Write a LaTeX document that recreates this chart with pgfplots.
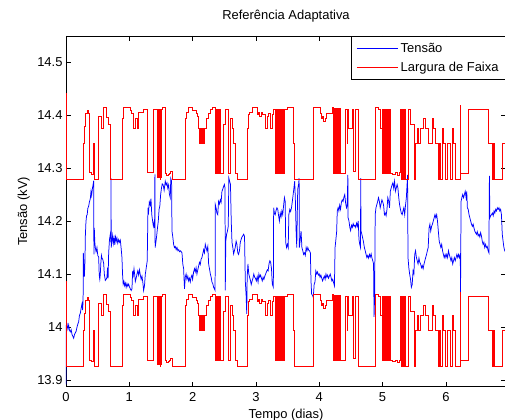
\documentclass[border=0pt]{standalone}
\usepackage{fontspec}
\setmainfont{Liberation Sans}
\usepackage{pgfplots}
\pgfplotsset{compat=1.18}
\usepackage{pgfplotstable}

\pgfplotstableread{
t lo up
0 14.087 14.440
0.003 13.926 14.279
0.279 13.994 14.347
0.29 14.025 14.378
0.305 14.05 14.403
0.332 14.056 14.409
0.355 14.05 14.403
0.369 13.938 14.291
0.4 13.935 14.288
0.437 13.994 14.347
0.442 13.926 14.279
0.506 14.045 14.398
0.558 14.022 14.375
0.595 14.062 14.415
0.637 14.042 14.395
0.67 14.03 14.383
0.70 13.926 14.279
0.895 14.04 14.393
0.91 14.062 14.415
1.016 14.056 14.409
1.04 14.05 14.403
1.069 14.022 14.375
1.095 14.04 14.393
1.122 14.022 14.375
1.15 14.052 14.405
1.226 14.058 14.411
1.28 13.938 14.291
1.385 14.058 14.411
1.437 13.93 14.283
1.445 14.058 14.411
1.455 13.93 14.283
1.46 14.058 14.411
1.47 13.93 14.283
1.477 14.058 14.411
1.485 13.926 14.279
1.49 14.058 14.411
1.5 13.93 14.283
1.505 14.058 14.411
1.516 14.062 14.415
1.569 13.937 14.290
1.59 13.934 14.287
1.61 13.935 14.288
1.63 13.937 14.290
1.648 13.94 14.293
1.674 13.926 14.279
1.885 14.04 14.393
1.9 14.052 14.405
1.938 14.062 14.415
2.0 14.056 14.409
2.054 14.05 14.403
2.075 14.045 14.398
2.096 14.022 14.375
2.105 13.994 14.347
2.112 14.022 14.375
2.12 13.994 14.347
2.13 14.022 14.375
2.14 13.994 14.347
2.15 14.022 14.375
2.16 13.994 14.347
2.17 14.022 14.375
2.18 13.994 14.347
2.19 14.022 14.375
2.225 14.04 14.393
2.254 14.05 14.403
2.28 14.058 14.411
2.307 14.062 14.415
2.359 13.937 14.290
2.37 14.058 14.411
2.38 13.937 14.290
2.39 14.058 14.411
2.4 13.937 14.290
2.41 14.058 14.411
2.42 13.937 14.290
2.43 14.058 14.411
2.44 13.937 14.290
2.49 14.03 14.383
2.517 14.058 14.411
2.559 13.937 14.290
2.596 14.04 14.393
2.625 14.022 14.375
2.649 13.994 14.347
2.675 13.937 14.290
2.701 13.926 14.279
2.859 14.022 14.375
2.875 14.048 14.401
2.9 14.052 14.405
2.938 14.062 14.415
3.017 14.048 14.401
3.04 14.052 14.405
3.06 14.044 14.397
3.08 14.052 14.405
3.096 14.048 14.401
3.149 14.022 14.375
3.175 14.045 14.398
3.201 14.05 14.403
3.23 14.022 14.375
3.254 14.048 14.401
3.28 14.057 14.410
3.307 13.937 14.290
3.32 14.057 14.410
3.335 13.937 14.290
3.35 14.057 14.410
3.365 13.937 14.290
3.38 14.057 14.410
3.4 13.937 14.290
3.415 14.057 14.410
3.43 13.937 14.290
3.445 14.057 14.410
3.49 14.062 14.415
3.596 13.994 14.347
3.61 13.926 14.279
3.912 14.062 14.415
4.018 14.05 14.403
4.035 14.04 14.393
4.055 14.045 14.398
4.07 14.035 14.388
4.097 14.04 14.393
4.12 14.05 14.403
4.202 14.062 14.415
4.228 13.937 14.290
4.24 14.06 14.413
4.25 13.937 14.290
4.26 14.06 14.413
4.27 13.937 14.290
4.28 14.06 14.413
4.29 13.937 14.290
4.3 14.06 14.413
4.312 13.937 14.290
4.325 14.06 14.413
4.338 13.937 14.290
4.41 14.058 14.411
4.44 13.994 14.347
4.448 14.058 14.411
4.465 14.022 14.375
4.518 14.058 14.411
4.54 13.94 14.293
4.57 14.058 14.411
4.623 13.926 14.279
4.886 14.062 14.415
4.939 14.058 14.411
4.965 14.022 14.375
4.992 14.058 14.411
5.0 13.937 14.290
5.01 14.058 14.411
5.02 13.937 14.290
5.03 14.058 14.411
5.04 13.937 14.290
5.05 14.058 14.411
5.06 13.937 14.290
5.07 14.058 14.411
5.08 13.937 14.290
5.09 14.058 14.411
5.1 13.937 14.290
5.11 14.058 14.411
5.124 13.937 14.290
5.16 13.935 14.288
5.2 13.938 14.291
5.23 13.934 14.287
5.26 13.938 14.291
5.28 14.058 14.411
5.3 13.926 14.279
5.31 14.058 14.411
5.33 13.926 14.279
5.34 14.058 14.411
5.36 13.926 14.279
5.413 14.058 14.411
5.44 14.03 14.383
5.508 13.926 14.279
5.52 13.994 14.347
5.545 14.022 14.375
5.57 13.994 14.347
5.598 14.022 14.375
5.65 14.04 14.393
5.677 14.022 14.375
5.73 13.994 14.347
5.782 14.04 14.393
5.8 14.022 14.375
5.835 13.994 14.347
5.88 13.926 14.279
5.9 13.994 14.347
5.915 13.926 14.279
5.94 14.022 14.375
5.965 13.994 14.347
5.99 13.926 14.279
6.019 13.994 14.347
6.07 13.926 14.279
6.098 14.022 14.375
6.125 13.994 14.347
6.15 13.926 14.279
6.229 14.066 14.419
6.235 13.937 14.290
6.35 14.058 14.411
6.677 13.994 14.347
6.73 13.926 14.279
6.757 13.994 14.347
6.77 13.926 14.279
6.888 13.994 14.347
6.95 13.994 14.347
}\bandtable

\pgfplotstableread{
t v
0.000 13.892
0.004 14.003
0.016 14.006
0.030 13.996
0.042 14.004
0.055 13.994
0.068 13.991
0.082 13.995
0.095 13.986
0.110 13.982
0.121 13.979
0.135 13.986
0.147 13.989
0.160 13.992
0.174 14.000
0.188 14.006
0.200 14.010
0.213 14.022
0.226 14.026
0.240 14.036
0.253 14.044
0.262 14.032
0.270 14.048
0.274 14.140
0.282 14.118
0.290 14.095
0.300 14.125
0.305 14.170
0.315 14.198
0.325 14.210
0.335 14.212
0.345 14.224
0.358 14.228
0.370 14.236
0.384 14.242
0.395 14.256
0.405 14.248
0.418 14.262
0.430 14.270
0.437 14.276
0.441 14.137
0.447 14.187
0.455 14.160
0.463 14.150
0.475 14.142
0.489 14.150
0.502 14.135
0.516 14.132
0.525 14.098
0.534 14.090
0.542 14.100
0.550 14.120
0.560 14.135
0.568 14.130
0.580 14.128
0.595 14.120
0.605 14.100
0.621 14.088
0.634 14.090
0.647 14.094
0.656 14.112
0.665 14.092
0.674 14.140
0.687 14.165
0.700 14.175
0.709 14.160
0.711 14.281
0.714 14.150
0.726 14.162
0.737 14.173
0.748 14.158
0.760 14.168
0.771 14.155
0.782 14.170
0.795 14.162
0.805 14.168
0.818 14.158
0.832 14.165
0.845 14.160
0.858 14.164
0.870 14.150
0.884 14.131
0.893 14.100
0.903 14.081
0.915 14.086
0.926 14.078
0.937 14.083
0.950 14.075
0.963 14.082
0.976 14.077
0.989 14.081
1.002 14.076
1.016 14.072
1.030 14.069
1.042 14.072
1.053 14.106
1.063 14.098
1.074 14.110
1.084 14.100
1.095 14.086
1.108 14.092
1.121 14.100
1.134 14.106
1.147 14.098
1.160 14.108
1.174 14.098
1.187 14.090
1.200 14.096
1.213 14.085
1.226 14.069
1.240 14.078
1.253 14.100
1.268 14.112
1.283 14.125
1.295 14.225
1.305 14.218
1.316 14.236
1.330 14.230
1.342 14.242
1.355 14.212
1.368 14.200
1.380 14.190
1.392 14.198
1.400 14.187
1.404 14.288
1.408 14.150
1.420 14.160
1.432 14.172
1.445 14.187
1.458 14.200
1.470 14.222
1.482 14.228
1.495 14.250
1.508 14.262
1.520 14.270
1.535 14.268
1.550 14.258
1.568 14.275
1.582 14.268
1.595 14.272
1.608 14.262
1.621 14.268
1.634 14.250
1.647 14.244
1.655 14.280
1.668 14.275
1.674 14.181
1.687 14.170
1.700 14.156
1.713 14.150
1.726 14.152
1.740 14.146
1.753 14.150
1.768 14.144
1.780 14.146
1.795 14.142
1.810 14.144
1.832 14.140
1.845 14.119
1.858 14.110
1.866 14.087
1.872 14.072
1.884 14.094
1.897 14.100
1.910 14.090
1.924 14.096
1.937 14.087
1.950 14.092
1.963 14.085
1.976 14.094
1.989 14.098
2.000 14.090
2.016 14.104
2.030 14.110
2.042 14.104
2.055 14.112
2.068 14.100
2.082 14.108
2.095 14.115
2.108 14.122
2.121 14.118
2.134 14.128
2.147 14.131
2.160 14.138
2.174 14.146
2.187 14.140
2.200 14.156
2.213 14.150
2.226 14.144
2.240 14.152
2.253 14.119
2.266 14.110
2.280 14.100
2.293 14.094
2.305 14.085
2.318 14.082
2.332 14.075
2.345 14.072
2.355 14.069
2.358 14.231
2.370 14.225
2.384 14.215
2.397 14.212
2.410 14.237
2.423 14.232
2.437 14.240
2.450 14.235
2.463 14.256
2.476 14.260
2.489 14.265
2.502 14.269
2.512 14.262
2.516 14.069
2.524 14.162
2.537 14.175
2.550 14.181
2.563 14.190
2.572 14.281
2.585 14.275
2.598 14.269
2.610 14.200
2.622 14.160
2.635 14.150
2.648 14.138
2.660 14.144
2.673 14.150
2.687 14.162
2.700 14.156
2.713 14.140
2.726 14.137
2.740 14.144
2.753 14.160
2.766 14.165
2.780 14.170
2.793 14.172
2.806 14.175
2.820 14.171
2.832 14.087
2.845 14.060
2.855 14.025
2.862 14.095
2.874 14.119
2.887 14.100
2.900 14.094
2.913 14.088
2.926 14.080
2.940 14.087
2.953 14.092
2.966 14.100
2.980 14.094
2.993 14.092
3.006 14.087
3.020 14.095
3.034 14.085
3.047 14.100
3.060 14.094
3.074 14.098
3.087 14.092
3.100 14.087
3.113 14.094
3.126 14.090
3.140 14.096
3.153 14.100
3.166 14.104
3.180 14.108
3.193 14.106
3.206 14.119
3.220 14.125
3.233 14.122
3.246 14.110
3.258 14.081
3.275 14.075
3.280 14.225
3.292 14.215
3.305 14.212
3.318 14.220
3.332 14.225
3.345 14.222
3.358 14.210
3.371 14.200
3.384 14.215
3.397 14.208
3.410 14.219
3.423 14.212
3.436 14.228
3.450 14.244
3.462 14.237
3.470 14.160
3.484 14.150
3.497 14.156
3.510 14.150
3.520 14.212
3.535 14.222
3.548 14.218
3.562 14.225
3.575 14.237
3.588 14.250
3.600 14.262
3.612 14.275
3.622 14.244
3.635 14.180
3.645 14.150
3.660 14.260
3.675 14.270
3.682 14.281
3.686 14.150
3.700 14.165
3.713 14.181
3.726 14.150
3.740 14.144
3.753 14.137
3.766 14.140
3.780 14.135
3.793 14.150
3.806 14.144
3.820 14.150
3.833 14.145
3.846 14.144
3.860 14.140
3.870 14.087
3.880 14.062
3.893 14.060
3.906 14.056
3.920 14.081
3.933 14.085
3.946 14.106
3.960 14.100
3.973 14.104
3.986 14.098
4.000 14.100
4.013 14.094
4.026 14.098
4.040 14.092
4.053 14.087
4.066 14.092
4.080 14.096
4.093 14.090
4.106 14.100
4.120 14.094
4.133 14.098
4.146 14.092
4.160 14.096
4.173 14.100
4.186 14.094
4.200 14.087
4.213 14.090
4.226 14.084
4.240 14.078
4.250 14.150
4.263 14.165
4.275 14.180
4.285 14.219
4.298 14.225
4.310 14.219
4.323 14.230
4.336 14.222
4.350 14.235
4.363 14.240
4.376 14.237
4.390 14.245
4.403 14.250
4.416 14.235
4.430 14.225
4.442 14.230
4.452 14.287
4.456 14.206
4.470 14.200
4.483 14.188
4.496 14.182
4.510 14.192
4.523 14.188
4.536 14.195
4.550 14.190
4.563 14.192
4.576 14.188
4.590 14.196
4.603 14.190
4.616 14.200
4.628 14.165
4.640 14.156
4.652 14.150
4.655 14.281
4.660 14.181
4.673 14.175
4.686 14.168
4.700 14.160
4.713 14.150
4.726 14.144
4.740 14.137
4.753 14.131
4.766 14.135
4.780 14.130
4.793 14.137
4.806 14.132
4.820 14.138
4.833 14.130
4.846 14.125
4.858 14.119
4.866 14.019
4.875 14.060
4.884 14.212
4.896 14.225
4.910 14.231
4.923 14.237
4.936 14.244
4.950 14.237
4.963 14.225
4.976 14.232
4.990 14.240
5.003 14.236
5.016 14.230
5.030 14.212
5.043 14.215
5.056 14.210
5.070 14.222
5.083 14.244
5.096 14.238
5.110 14.225
5.123 14.256
5.136 14.262
5.150 14.268
5.163 14.272
5.176 14.262
5.190 14.275
5.203 14.256
5.216 14.262
5.230 14.269
5.243 14.262
5.256 14.244
5.270 14.230
5.283 14.222
5.296 14.215
5.310 14.212
5.323 14.219
5.336 14.225
5.350 14.212
5.363 14.230
5.376 14.244
5.388 14.270
5.395 14.287
5.402 14.131
5.415 14.112
5.428 14.100
5.442 14.090
5.455 14.075
5.468 14.080
5.482 14.106
5.495 14.100
5.508 14.137
5.521 14.144
5.535 14.131
5.548 14.125
5.561 14.119
5.575 14.130
5.588 14.122
5.601 14.119
5.615 14.112
5.628 14.116
5.641 14.110
5.655 14.119
5.668 14.125
5.681 14.131
5.695 14.137
5.708 14.144
5.721 14.150
5.735 14.187
5.748 14.194
5.761 14.181
5.775 14.190
5.788 14.194
5.801 14.200
5.815 14.206
5.828 14.212
5.841 14.206
5.855 14.212
5.868 14.200
5.881 14.181
5.895 14.162
5.908 14.156
5.921 14.150
5.934 14.156
5.948 14.144
5.961 14.137
5.974 14.131
5.988 14.137
6.001 14.131
6.014 14.137
6.028 14.131
6.041 14.144
6.054 14.137
6.068 14.131
6.081 14.125
6.094 14.131
6.108 14.119
6.121 14.125
6.134 14.131
6.148 14.125
6.161 14.131
6.174 14.137
6.188 14.131
6.201 14.137
6.214 14.131
6.228 14.137
6.232 14.066
6.240 14.237
6.253 14.244
6.266 14.250
6.280 14.244
6.293 14.250
6.306 14.256
6.320 14.244
6.330 14.256
6.340 14.225
6.353 14.222
6.366 14.212
6.379 14.206
6.392 14.200
6.405 14.194
6.418 14.190
6.431 14.194
6.444 14.187
6.457 14.181
6.470 14.178
6.483 14.175
6.496 14.180
6.510 14.172
6.523 14.175
6.536 14.170
6.549 14.178
6.562 14.172
6.575 14.162
6.588 14.156
6.601 14.160
6.614 14.150
6.628 14.156
6.641 14.150
6.654 14.152
6.667 14.144
6.680 14.140
6.688 14.285
6.695 14.206
6.708 14.210
6.721 14.212
6.735 14.215
6.748 14.210
6.761 14.219
6.774 14.215
6.787 14.222
6.800 14.219
6.813 14.225
6.826 14.222
6.839 14.225
6.852 14.219
6.865 14.222
6.878 14.212
6.891 14.175
6.904 14.162
6.917 14.150
6.930 14.144
6.950 14.140
}\voltable

\begin{document}
\begin{tikzpicture}
\path[use as bounding box] (-66bp,-33.3bp) rectangle (439bp,386.7bp);
\begin{axis}[
  at={(0,0)}, anchor=south west,
  scale only axis, width=440bp, height=350.7bp,
  xmin=0, xmax=6.95, ymin=13.8875, ymax=14.549,
  xtick={0,1,2,3,4,5,6},
  ytick={13.9,14,14.1,14.2,14.3,14.4,14.5},
  tick align=inside, major tick length=5bp,
  /pgf/number format/assume math mode=true,
  font=\fontsize{13}{15.6}\selectfont,
  ticklabel style={font=\fontsize{13}{15.6}\selectfont},
  xticklabel style={yshift=-2bp},
  axis line style={line width=0.8pt, black},
  tick style={line width=0.6pt, black},
  title={Referência Adaptativa},
  title style={at={(axis description cs:0.5,1.0314)}, anchor=base},
  xlabel={Tempo (dias)},
  xlabel style={at={(axis description cs:0.5,-0.0901)}, anchor=base},
  ylabel={Tensão (kV)},
  ylabel style={at={(axis description cs:-0.0886,0.5)}, anchor=base},
  legend cell align=left,
  legend style={at={(axis description cs:0.6477,1)}, anchor=north west,
    draw=black, line width=0.8pt, fill=white,
    inner xsep=5bp, inner ysep=2.65bp, row sep=0pt,
    nodes={inner xsep=2.5bp, inner ysep=3bp, text height=10.5bp, text depth=2.5bp},
    font=\fontsize{13}{15.6}\selectfont},
  legend image code/.code={\draw[#1, line width=0.75pt] (0bp,0bp) -- (41bp,0bp);},
]
\addplot[blue, line width=0.75pt] table[x=t, y=v] {\voltable};
\addlegendentry{Tensão}
\addplot[red, line width=0.75pt, const plot] table[x=t, y=up] {\bandtable};
\addlegendentry{Largura de Faixa}
\addplot[red, line width=0.75pt, const plot, forget plot] table[x=t, y=lo] {\bandtable};
\end{axis}
\end{tikzpicture}
\end{document}
